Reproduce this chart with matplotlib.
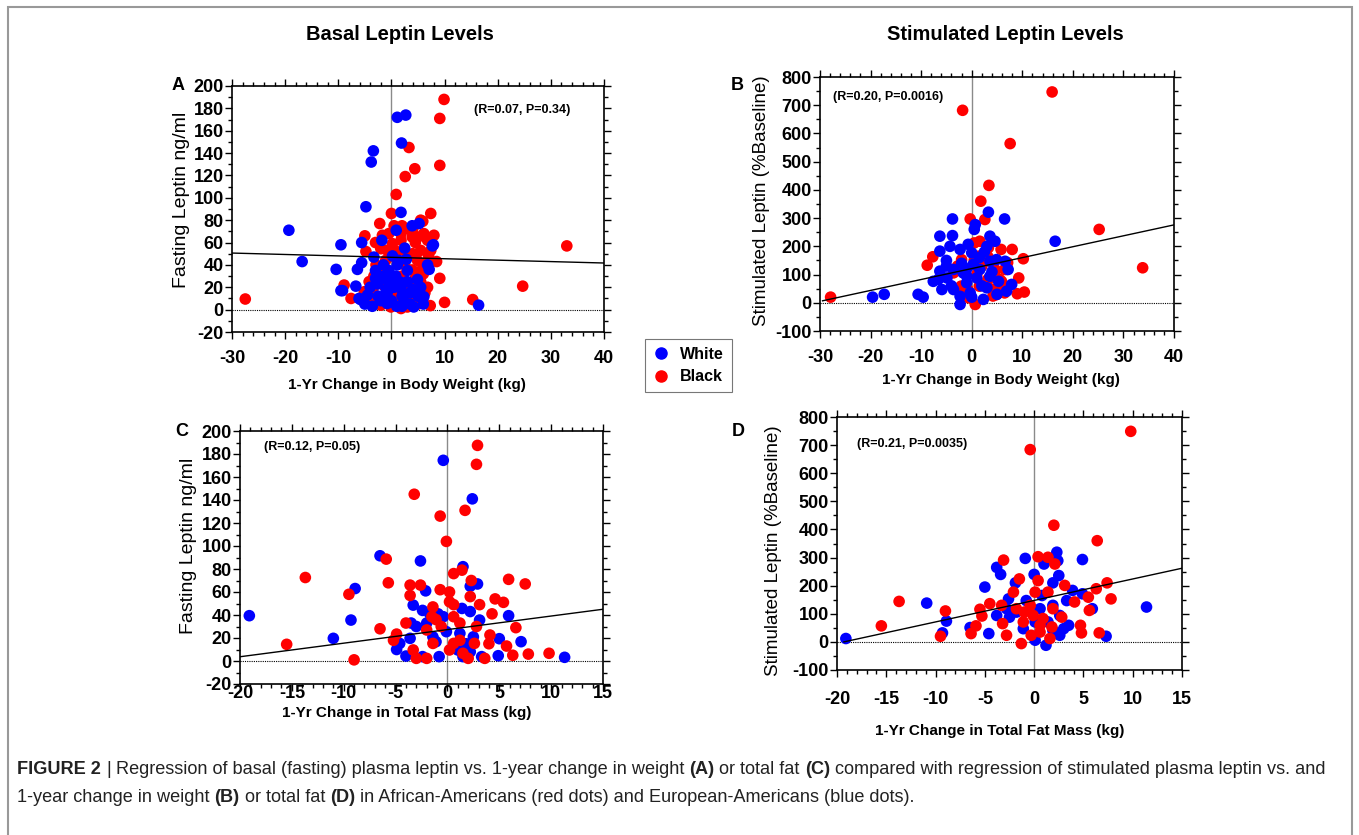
import matplotlib
matplotlib.use('Agg')
import matplotlib.pyplot as plt
from matplotlib.lines import Line2D
from matplotlib.patches import Rectangle
from matplotlib.ticker import MultipleLocator

W, H = 1359, 835
BLUE = '#0000ff'
RED = '#ff0000'

# panel A: fasting leptin vs 1-yr change in body weight
white_a_x = [-19.3, -16.8, -9.5, -10.4, -9.5, -6.4, -5.6, -5.6, -4.8, -3.8, -3.4, 1.1, 2.7, 1.9, 1.8, 0.9,
             3.9, 5.2, 7.9, 7.1, 16.4, -6.7, -5.8, -3.6, -1.8, -3.3, 1.4, -1.4, 0.2, -0.8, 1.8, -2.6, -4.5,
             -6.1, -0.8, 2.4, 3.6, 6.1, 4.2, 0.8, 3.0, 1.1, 4.9, -9.2, 7.7, 6.8, -1.0, 0.5, 2.0, -2.0, 1.0,
             3.0, -3.0, -1.5, 0.2, 2.5, 6.0, 5.0, -4.0, -5.0, -2.5, 0.0, 2.0, 3.5, -1.0, 1.5, 4.0, -3.0,
             2.8, -0.5, 5.5]
white_a_y = [71, 43, 58, 36, 17, 36, 42, 60, 92, 132, 142, 172, 174, 149, 87, 71, 75, 77, 58, 36, 4, 21, 9,
             3, 62, 47, 44, 30, 23, 15, 19, 23, 13, 10, 5.5, 7, 15, 11.5, 2.4, 30, 35, 40, 27, 17, 57, 40,
             27, 20, 12, 8, 3, 25, 35, 40, 48, 55, 5, 12, 20, 5, 12, 8, 3, 5, 18, 25, 18, 28, 45, 35, 20]
black_a_x = [-27.5, 9.9, 9.1, 3.3, 9.1, 4.4, 2.6, 0.9, 0.0, 7.4, -2.2, -5.0, 5.9, -4.8, -8.9, -7.6, 8.5,
             9.1, 10.0, 15.3, 24.7, 33.0, 7.3, 6.3, 5.5, 3.9, 1.8, 6.1, 6.8, 5.5, 2.4, -0.8, -2.0, -1.1,
             3.0, 4.9, 6.1, 3.9, 5.2, 5.5, 3.6, -3.3, -4.2, -5.1, -2.6, -2.0, -0.1, 1.8, 3.0, 3.6, 0.8,
             1.1, 1.8, 0.2, 0.5, -0.5, -1.7, 3.3, 7.4, 8.0, -2.9, 6.8, 4.5, 2.0, -1.0, 1.0, 5.0, -3.5,
             2.5, 4.0, -4.0, -1.5, 0.5, 2.5, 4.5, 6.0, 7.0, -3.0, 1.0, 2.0, 4.0, 5.0]
black_a_y = [9.5, 188, 171, 145, 129, 126, 119, 103, 86, 86, 77, 66, 79, 52, 22, 10, 43, 28, 6.5, 9, 21,
             57, 3.6, 15, 80, 65, 68, 68, 62, 53, 53, 53, 54.5, 44, 47, 44, 41, 35.5, 34, 25, 22, 30, 25,
             16, 11.5, 4, 2.4, 1, 2.4, 8.4, 11.3, 7, 62, 59, 75, 68, 66.5, 72, 53, 66.5, 40, 20, 60, 30,
             35, 45, 5, 18, 40, 50, 8, 22, 18, 15, 28, 32, 48, 60, 52, 75, 72, 65]

# panel B: stimulated leptin vs 1-yr change in body weight
white_b_x = [-19.6, -17.3, -10.6, -9.6, -3.8, 6.5, 3.3, 0.7, -6.3, -3.8, 3.6, 4.6, -6.3, -4.3, -2.3, -0.7,
             0.0, 3.0, -6.3, -6.6, -4.9, -3.6, -1.7, -1.0, 1.0, 1.6, 3.6, 4.9, 6.6, 7.2, 7.9, 6.9, 3.0,
             2.3, -2.3, -2.3, -3.6, -5.9, 16.5, 0.3, 3.6, 5.3, -0.3, -7.6, 0.5, -5.0, -2.0, 1.5, -1.0,
             2.0, -4.0, 5.0, 0.0, -1.0, 4.0, -5.0, 2.5]
white_b_y = [20, 30, 30, 20, 297, 297, 321, 277, 236, 238, 236, 218, 183, 200, 189, 207, 177, 200, 112,
             83, 88, 118, 106, 71, 88, 118, 147, 153, 147, 118, 65, 41, 53, 12, -6, 23, 47, 47, 218, 136,
             94, 76, 35, 76, 260, 150, 140, 160, 120, 60, 60, 30, 20, 95, 110, 130, 180]
black_b_x = [-27.9, -1.8, 15.9, 7.6, 3.4, 1.8, 25.2, 33.8, 10.2, 8.0, 9.3, 10.4, 9.0, -8.8, -7.7, 0.7,
             -0.3, 2.6, 1.6, 3.3, 4.6, 6.9, 4.9, 4.3, -1.7, -2.3, -0.7, -3.6, -2.0, 1.3, 5.9, 3.0, 5.8,
             6.5, 4.5, 6.5, 5.1, -2.1, -1.5, -2.8, 0.5, 3.2, 7.1, 0.5, 4.2, -0.8, 1.5, 3.2, 5.5, 2.0,
             1.0, 6.0]
black_b_y = [20, 682, 747, 564, 416, 360, 260, 124, 156, 189, 88, 38, 32, 133, 163, -6, 297, 295, 218,
             195, 118, 118, 29, 47, 53, 47, 18, 106, 153, 165, 76, 71, 189, 118, 106, 35, 47, 59, 106,
             130, 151, 163, 142, 212, 24, 47, 59, 83, 83, 130, 100, 60]

# panel C: fasting leptin vs 1-yr change in total fat mass
white_c_x = [-19.1, -11.0, -9.3, -8.9, -6.5, -2.6, -0.4, 2.4, 1.5, 2.9, 2.2, -2.1, 3.1, 5.9, 7.1, 5.0,
             4.9, 11.3, -4.9, -4.0, -3.5, -3.3, -2.4, -1.7, -0.9, -0.4, -3.0, -3.6, -1.4, -1.1, -0.8,
             0.6, 1.0, 1.5, 2.2, 1.8, 1.2, 2.2, 3.3, -2.4, -4.6, -2.0, -0.1, 1.4, 2.5]
white_c_y = [39.4, 19.7, 35.6, 63, 91.5, 87, 174.5, 141, 82, 67, 65, 61, 35.6, 39.4, 16.8, 19.4, 4.6,
             3.2, 10, 4.3, 33, 48.6, 44, 41, 41, 38.5, 30, 19.7, 21, 16.8, 3.8, 12.4, 9.6, 3.8, 8, 15,
             24, 43, 3.8, 3.8, 15.3, 33, 25.5, 45.7, 21]
black_c_x = [2.9, 2.8, -3.2, 1.7, -0.7, -0.1, -5.9, -13.7, -9.5, -15.5, -9.0, -5.7, -6.5, 5.9, 7.5, 6.6,
             7.8, 9.8, 5.7, 6.3, 4.6, 5.4, 4.3, 0.6, 1.4, 2.3, 3.1, -3.6, -2.6, -3.6, -0.7, 0.2, 0.6,
             -1.1, -2.0, -4.9, -5.2, -3.3, -3.0, -2.0, 0.2, 1.5, 2.0, 3.6, 4.0, 4.1, 2.8, 1.2, 0.6,
             -0.6, -1.5, -1.4, 1.2, 0.6, 2.2, -1.4, -4.0, 0.2, 2.6]
black_c_y = [187.5, 171, 145, 131, 126, 104, 88.6, 72.6, 58, 14.5, 1, 68, 28, 71, 67, 29, 6, 6.7, 13, 5,
             54, 51, 41, 76, 79, 70, 49, 66, 66, 57, 62, 60, 49, 36, 27, 23.4, 18, 9.6, 2.3, 2.3, 9.6,
             6.7, 2.3, 2.3, 15, 22.6, 30, 33, 38.5, 30, 38.5, 47, 18, 15.3, 56, 15.3, 33, 51.5, 15.3]

# panel D: stimulated leptin vs 1-yr change in total fat mass
white_d_x = [-19.1, -10.9, -8.9, -9.3, -6.5, -4.6, -5.0, -3.4, -3.8, -0.9, 1.0, 2.3, 2.4, 4.9, 0.0, -1.9,
             1.9, 2.5, 3.9, 4.9, 5.9, 7.3, 11.4, -2.6, 0.1, 0.1, 1.2, -0.8, -1.8, 1.9, 2.6, 3.0, 3.5,
             -3.8, -2.5, -1.1, 1.4, 1.9, 2.6, -2.8, 0.6, 3.3, 0.8]
white_d_y = [12, 138, 74, 32, 51, 29.5, 195, 240, 265, 297, 277, 319, 289, 293, 240, 210, 210, 236, 183,
             171, 118, 20, 124, 153, 71, 6, -12, 147, 106, 130, 94, 47, 59, 94, 88, 47, 71, 41, 23.6,
             118, 118, 147, 165]
black_d_x = [9.8, -0.4, 2.0, 6.4, -3.1, 0.4, 2.1, 1.4, 7.4, 7.8, 6.3, 5.5, 5.6, 4.1, 3.1, 2.8, 4.7, 4.8,
             6.6, -13.7, -15.5, -9.0, -9.5, -5.9, -6.4, -5.5, -5.3, -4.5, -3.3, -3.2, -2.8, -1.5, -2.1,
             0.4, 0.1, -0.4, -1.0, -1.3, -0.3, 0.6, 1.6, 1.8, 0.9, 1.9, -0.1, 1.4, -1.8, -1.1, 0.6]
black_d_y = [749, 684, 415, 360, 291, 303, 277, 301, 210, 153, 189, 159, 112, 142, 201, 88, 59, 32, 32,
             144, 57, 110, 20, 57, 29.5, 116, 92, 136, 130, 65, 23.6, 224, 177, 218, 177, 130, 106, -6,
             23.6, 35, 12, 53, 83, 118, 94, 177, 118, 71, 59]

# regression line end points
fit_a_x, fit_a_y = [-30, 40], [50.6, 41.7]
fit_b_x, fit_b_y = [-29.5, 40], [7, 276]
fit_c_x, fit_c_y = [-20, 15], [3.7, 45]
fit_d_x, fit_d_y = [-19.3, 15], [0, 262]

stats = ['(R=0.07, P=0.34)', '(R=0.20, P=0.0016)', '(R=0.12, P=0.05)', '(R=0.21, P=0.0035)']

plt.rcParams['font.family'] = ['Liberation Sans', 'DejaVu Sans']
plt.rcParams['axes.unicode_minus'] = False

fig = plt.figure(figsize=(W / 100, H / 100), dpi=100)


def fx(x):
    return x / W


def fy(y):
    return 1 - y / H


def panel(rect, xlim, ylim, xmaj, xmin, ymaj, ymin, xpad):
    l, t, r, b = rect
    ax = fig.add_axes([fx(l), fy(b), (r - l) / W, (b - t) / H])
    ax.set_xlim(*xlim)
    ax.set_ylim(*ylim)
    ax.xaxis.set_major_locator(MultipleLocator(xmaj))
    ax.xaxis.set_minor_locator(MultipleLocator(xmin))
    ax.yaxis.set_major_locator(MultipleLocator(ymaj))
    ax.yaxis.set_minor_locator(MultipleLocator(ymin))
    ax.tick_params(which='both', direction='out', top=True, right=True, width=1, labelsize=13, colors='k')
    ax.tick_params(which='major', length=5)
    ax.tick_params(which='minor', length=3)
    ax.tick_params(axis='x', pad=xpad)
    ax.tick_params(axis='y', pad=1)
    for lbl in ax.get_xticklabels() + ax.get_yticklabels():
        lbl.set_fontweight('bold')
    for sp in ax.spines.values():
        sp.set_linewidth(1.2)
    ax.axvline(0, color='#8a8a8a', lw=1, zorder=1)
    ax.axhline(0, color='k', lw=0.8, ls=(0, (1, 1)), zorder=1)
    return ax


axes = [
    panel((232, 86, 604, 332), (-30, 40), (-20, 200), 10, 2, 20, 10, 8),
    panel((820, 77, 1174, 331), (-30, 40), (-100, 800), 10, 2, 100, 50, 8),
    panel((240, 431, 603, 684), (-20, 15), (-20, 200), 5, 1, 20, 10, -4),
    panel((837, 417, 1182, 670), (-20, 15), (-100, 800), 5, 1, 100, 50, 10),
]
whites = [(white_a_x, white_a_y), (white_b_x, white_b_y), (white_c_x, white_c_y), (white_d_x, white_d_y)]
blacks = [(black_a_x, black_a_y), (black_b_x, black_b_y), (black_c_x, black_c_y), (black_d_x, black_d_y)]
fits = [(fit_a_x, fit_a_y), (fit_b_x, fit_b_y), (fit_c_x, fit_c_y), (fit_d_x, fit_d_y)]
# which group sits on top in each panel
white_on_top = [True, True, False, False]

for ax, (wx, wy), (bx, by), (lx, ly), top in zip(axes, whites, blacks, fits, white_on_top):
    ax.scatter(wx, wy, s=70, color=BLUE, edgecolors='none', zorder=3.2 if top else 3)
    ax.scatter(bx, by, s=70, color=RED, edgecolors='none', zorder=3 if top else 3.2)
    ax.plot(lx, ly, color='k', lw=1, zorder=4)

# titles, letters, labels
fig.text(fx(400), fy(35), 'Basal Leptin Levels', fontsize=14.5, fontweight='bold', ha='center', va='center')
fig.text(fx(1005), fy(35), 'Stimulated Leptin Levels', fontsize=14.5, fontweight='bold', ha='center', va='center')

for s, x, y in [('A', 178, 86), ('B', 737, 85), ('C', 182, 431), ('D', 738, 431)]:
    fig.text(fx(x), fy(y), s, fontsize=13, fontweight='bold', ha='center', va='center')

for s, x, y in zip(stats, [522, 888, 312, 912], [110, 97, 447, 444]):
    fig.text(fx(x), fy(y), s, fontsize=9, fontweight='bold', ha='center', va='center')

ylabels = [('Fasting Leptin ng/ml', 182, 200, 14), ('Stimulated Leptin (%Baseline)', 762, 201, 13.5),
           ('Fasting Leptin ng/ml', 189, 546, 14), ('Stimulated Leptin (%Baseline)', 773, 551, 13.5)]
for s, x, y, fs in ylabels:
    fig.text(fx(x), fy(y), s, fontsize=fs, rotation=90, ha='center', va='center')

xlabels = [('1-Yr Change in Body Weight (kg)', 407, 385), ('1-Yr Change in Body Weight (kg)', 1001, 380),
           ('1-Yr Change in Total Fat Mass (kg)', 407, 713), ('1-Yr Change in Total Fat Mass (kg)', 1000, 731)]
for s, x, y in xlabels:
    fig.text(fx(x), fy(y), s, fontsize=11, fontweight='bold', ha='center', va='center')

handles = [Line2D([], [], ls='none', marker='o', ms=8, color=BLUE),
           Line2D([], [], ls='none', marker='o', ms=8, color=RED)]
leg = fig.legend(handles, ['White', 'Black'], loc='upper left', bbox_to_anchor=(fx(645), fy(339)),
                 frameon=True, fancybox=False, edgecolor='#555555', prop={'size': 11.5, 'weight': 'bold'},
                 handlelength=1, handletextpad=0.7, borderpad=0.5, labelspacing=0.45, borderaxespad=0)
leg.get_frame().set_linewidth(0.8)

# outer frame
fig.patches.append(Rectangle((fx(8), fy(845)), (1352 - 8) / W, (845 - 7) / H, transform=fig.transFigure,
                             fill=False, edgecolor='#999999', lw=1.5))

# caption with bold pieces
renderer = fig.canvas.get_renderer()
cap_size = 13.1
space = 0.278 * cap_size * 100 / 72 / W


def caption_line(parts, x, y):
    for s, w in parts:
        t = fig.text(x, y, s, fontsize=cap_size, fontweight=w, color='#222222', ha='left', va='center')
        x += t.get_window_extent(renderer).width / W + space


caption_line([('FIGURE 2', 'bold'), ('|', 'normal'),
              ('Regression of basal (fasting) plasma leptin vs. 1-year change in weight', 'normal'),
              ('(A)', 'bold'), ('or total fat', 'normal'), ('(C)', 'bold'),
              ('compared with regression of stimulated plasma leptin vs. and', 'normal')], fx(17), fy(770))
caption_line([('1-year change in weight', 'normal'), ('(B)', 'bold'), ('or total fat', 'normal'),
              ('(D)', 'bold'), ('in African-Americans (red dots) and European-Americans (blue dots).', 'normal')],
             fx(17), fy(797))

fig.savefig('out.png', dpi=100)
